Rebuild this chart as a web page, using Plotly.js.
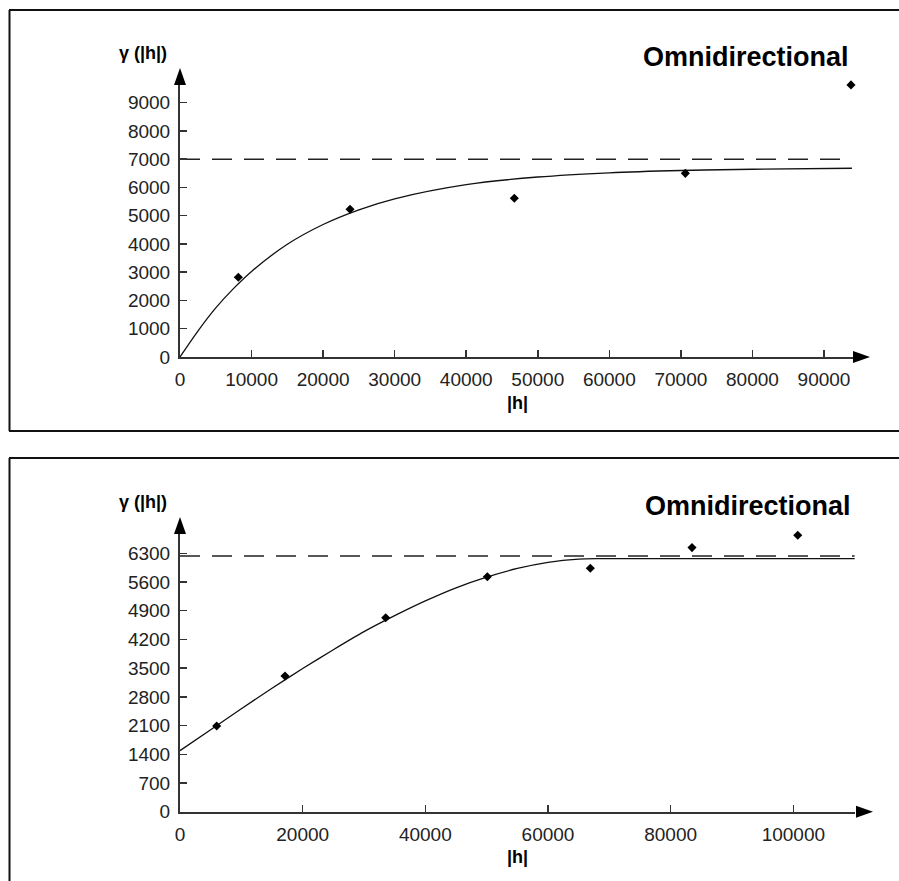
<!DOCTYPE html>
<html>
<head>
<meta charset="utf-8">
<script src="https://cdn.plot.ly/plotly-3.0.1.min.js"></script>
<style>html,body{margin:0;padding:0;background:#fff;}#chart{width:899px;height:881px;}</style>
</head>
<body>
<div id="chart"></div>
<script>
// ---- Data ----
// Top panel: experimental points
const topLagH = [8150, 23760, 46720, 70620, 93770];
const topGamma = [2820, 5230, 5620, 6500, 9630];
// Top panel: fitted model curve
const topCurveH = [0, 2500, 5000, 7500, 10000, 15000, 20000, 25000, 30000, 40000, 50000, 60000, 70000, 80000, 93900];
const topCurveG = [0, 920, 1740, 2430, 3030, 3990, 4690, 5210, 5600, 6100, 6370, 6520, 6600, 6645, 6680];
// Top panel: sill (dashed)
const topSillH = [0, 93900];
const topSillG = [7000, 7000];
const topXTicks = [0, 10000, 20000, 30000, 40000, 50000, 60000, 70000, 80000, 90000];
const topYTicks = [0, 1000, 2000, 3000, 4000, 5000, 6000, 7000, 8000, 9000];

// Bottom panel: experimental points
const botLagH = [5980, 17120, 33540, 50110, 66900, 83480, 100720];
const botGamma = [2090, 3310, 4730, 5730, 5935, 6440, 6740];
// Bottom panel: fitted model curve
const botCurveH = [0, 5000, 10000, 15000, 20000, 25000, 30000, 35000, 40000, 45000, 50000, 55000, 60000, 65000, 68000, 110000];
const botCurveG = [1490, 2000, 2510, 3010, 3490, 3950, 4390, 4780, 5140, 5460, 5720, 5930, 6080, 6160, 6170, 6170];
// Bottom panel: sill (dashed)
const botSillH = [0, 110000];
const botSillG = [6235, 6235];
const botXTicks = [0, 20000, 40000, 60000, 80000, 100000];
const botYTicks = [0, 700, 1400, 2100, 2800, 3500, 4200, 4900, 5600, 6300];

const titleText = "Omnidirectional";
const yTitleText = "γ (|h|)";
const xTitleText = "|h|";

// ---- Layout helpers (pixel -> paper) ----
const W = 899, H = 881;
const px = x => x / W;
const py = y => 1 - y / H;
const FONT = "Liberation Sans, Arial, sans-serif";
const AX = '#333';

const traces = [
  {x: topSillH, y: topSillG, xaxis: 'x', yaxis: 'y', mode: 'lines',
   line: {color: '#222', width: 1.5, dash: '20px,12px'}, hoverinfo: 'skip'},
  {x: topCurveH, y: topCurveG, xaxis: 'x', yaxis: 'y', mode: 'lines',
   line: {color: '#111', width: 1.3, shape: 'spline'}, hoverinfo: 'skip'},
  {x: topLagH, y: topGamma, xaxis: 'x', yaxis: 'y', mode: 'markers', cliponaxis: false,
   marker: {symbol: 'diamond', size: 7, color: '#000'}},
  {x: botSillH, y: botSillG, xaxis: 'x2', yaxis: 'y2', mode: 'lines',
   line: {color: '#222', width: 1.5, dash: '20px,12px'}, hoverinfo: 'skip'},
  {x: botCurveH, y: botCurveG, xaxis: 'x2', yaxis: 'y2', mode: 'lines',
   line: {color: '#111', width: 1.3, shape: 'spline', smoothing: 0.6}, hoverinfo: 'skip'},
  {x: botLagH, y: botGamma, xaxis: 'x2', yaxis: 'y2', mode: 'markers', cliponaxis: false,
   marker: {symbol: 'diamond', size: 7, color: '#000'}}
];

function xAxis(domain, range, ticks, anchor) {
  return {domain: domain, range: range, anchor: anchor, tickmode: 'array', tickvals: ticks,
    ticktext: ticks.map(String), showline: true, linecolor: AX, linewidth: 2,
    ticks: 'inside', ticklen: 7, tickwidth: 1.5, tickcolor: AX, showgrid: false, zeroline: false,
    tickfont: {family: FONT, size: 19, color: '#222'}, ticklabelstandoff: 4, fixedrange: true};
}
function yAxis(domain, range, ticks, anchor) {
  return {domain: domain, range: range, anchor: anchor, tickmode: 'array', tickvals: ticks,
    ticktext: ticks.map(String), showline: true, linecolor: AX, linewidth: 2,
    ticks: 'inside', ticklen: 7, tickwidth: 1.5, tickcolor: AX, showgrid: false, zeroline: false,
    tickfont: {family: FONT, size: 19, color: '#222'}, ticklabelstandoff: 4, fixedrange: true};
}

function tri(points) {
  return {type: 'path', xref: 'paper', yref: 'paper', fillcolor: '#000', line: {width: 0},
    path: 'M' + points.map(p => px(p[0]) + ',' + py(p[1])).join('L') + 'Z'};
}
function hline(x0, x1, y, w) {
  return {type: 'line', xref: 'paper', yref: 'paper', x0: px(x0), x1: px(x1), y0: py(y), y1: py(y),
    line: {color: '#111', width: w}};
}
function vline(x, y0, y1, w) {
  return {type: 'line', xref: 'paper', yref: 'paper', x0: px(x), x1: px(x), y0: py(y0), y1: py(y1),
    line: {color: '#111', width: w}};
}

const layout = {
  width: W, height: H, margin: {l: 0, r: 0, t: 0, b: 0}, showlegend: false,
  paper_bgcolor: '#fff', plot_bgcolor: 'rgba(0,0,0,0)',
  xaxis: xAxis([px(180), px(855)], [0, 94330], topXTicks, 'y'),
  yaxis: yAxis([py(357), py(84)], [0, 9662], topYTicks, 'x'),
  xaxis2: xAxis([px(180), px(855)], [0, 110055], botXTicks, 'y2'),
  yaxis2: yAxis([py(811.7), py(534)], [0, 6771], botYTicks, 'x2'),
  shapes: [
    // frames
    hline(9, 899, 10, 2), vline(9.5, 10, 431, 2), hline(9, 899, 431, 2),
    hline(9, 899, 458, 2), vline(9.5, 458, 881, 2),
    // arrowheads
    tri([[180, 68], [174, 85], [186, 85]]),
    tri([[870, 357], [853, 351], [853, 363]]),
    tri([[180, 517], [174, 534], [186, 534]]),
    tri([[873, 811.7], [856, 805.7], [856, 817.7]])
  ],
  annotations: [
    {text: '<b>' + titleText + '</b>', xref: 'paper', yref: 'paper', x: px(851), y: py(57),
     xanchor: 'right', yanchor: 'middle', showarrow: false, font: {family: FONT, size: 27, color: '#000'}},
    {text: '<b>' + titleText + '</b>', xref: 'paper', yref: 'paper', x: px(853), y: py(506),
     xanchor: 'right', yanchor: 'middle', showarrow: false, font: {family: FONT, size: 27, color: '#000'}},
    {text: '<b>' + yTitleText + '</b>', xref: 'paper', yref: 'paper', x: px(143), y: py(53),
     xanchor: 'center', yanchor: 'middle', showarrow: false, font: {family: FONT, size: 18, color: '#000'}},
    {text: '<b>' + yTitleText + '</b>', xref: 'paper', yref: 'paper', x: px(143), y: py(502),
     xanchor: 'center', yanchor: 'middle', showarrow: false, font: {family: FONT, size: 18, color: '#000'}},
    {text: '<b>' + xTitleText + '</b>', xref: 'paper', yref: 'paper', x: px(517), y: py(403),
     xanchor: 'center', yanchor: 'middle', showarrow: false, font: {family: FONT, size: 18, color: '#000'}},
    {text: '<b>' + xTitleText + '</b>', xref: 'paper', yref: 'paper', x: px(517), y: py(857),
     xanchor: 'center', yanchor: 'middle', showarrow: false, font: {family: FONT, size: 18, color: '#000'}}
  ]
};

Plotly.newPlot('chart', traces, layout, {displayModeBar: false, staticPlot: true});
</script>
</body>
</html>
